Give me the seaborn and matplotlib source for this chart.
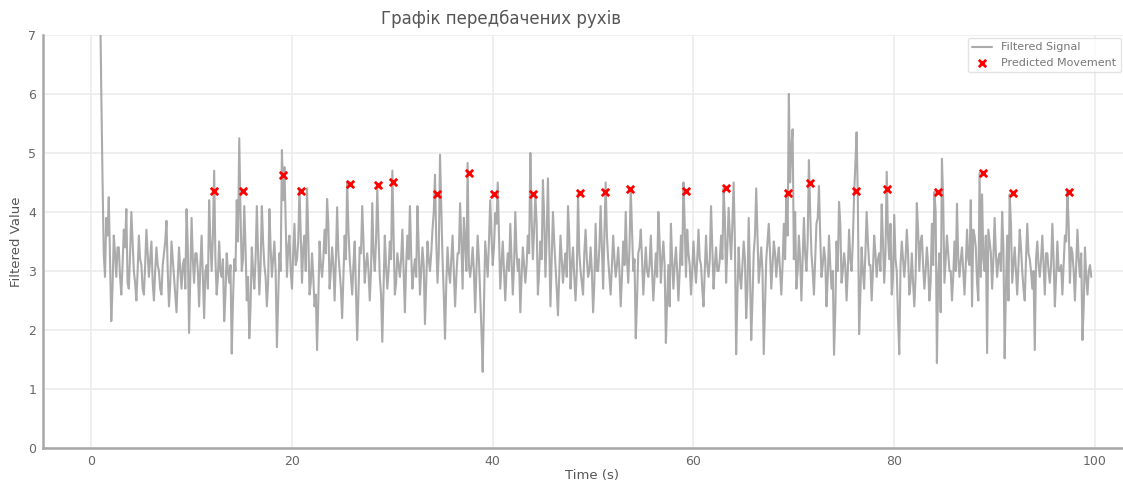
import numpy as np
import pandas as pd
import matplotlib
matplotlib.use("Agg")
import matplotlib.pyplot as plt
import seaborn as sns

# Filtered signal: main samples every 0.25 s starting at t = 0.75 s
signal_start = 0.75
signal_step = 0.25
signal_values = [
    9.5, 6.1, 3.3, 3.9,   4.25, 2.15, 3.6, 2.9,   3.4, 2.6, 3.7, 4.05,  2.7, 4.0, 3.0, 2.5,   3.6, 3.1, 2.6, 3.7,
    2.9, 3.5, 2.5, 3.4,   3.0, 2.6, 3.3, 3.85,  2.4, 3.5, 2.9, 2.3,   3.4, 2.7, 3.2, 4.05,  1.95, 3.9, 2.8, 3.3,
    2.4, 3.6, 2.2, 3.1,   4.2, 3.0, 4.7, 2.6,   3.5, 2.9, 2.15, 3.3,  2.8, 1.6, 3.2, 4.2,   5.25, 3.0, 4.1, 2.5,
    1.86, 3.4, 2.7, 4.1,  2.6, 4.1, 3.1, 2.4,   4.05, 2.9, 3.5, 1.71, 3.3, 5.05, 4.76, 2.9, 3.6, 2.7, 3.8, 3.2,
    4.4, 2.8, 3.6, 4.4,   2.6, 3.3, 2.4, 1.66,  3.5, 2.9, 3.7, 4.22,  2.7, 3.4, 2.5, 4.08,  3.0, 2.2, 3.6, 4.5,
    3.2, 2.6, 3.5, 1.83,  3.4, 4.1, 2.8, 3.3,   2.5, 4.15, 3.0, 4.4,  2.9, 1.8, 3.6, 2.7,   3.5, 4.7, 2.6, 3.3,
    2.9, 3.7, 2.3, 3.6,   4.1, 2.7, 3.2, 4.1,   2.6, 3.4, 2.1, 3.5,   3.0, 3.7, 4.63, 2.8,  4.97, 3.2, 1.85, 3.4,
    2.8, 3.6, 2.4, 3.3,   4.15, 2.7, 3.5, 4.83, 2.9, 3.4, 2.3, 3.6,   2.6, 1.29, 3.5, 2.9,  4.2, 3.1, 3.98, 4.5,
    2.7, 3.5, 2.5, 3.3,   3.8, 2.6, 4.0, 3.0,   2.3, 3.4, 2.8, 3.6,   5.0, 3.2, 4.3, 2.6,   3.5, 4.54, 2.9, 4.57,
    2.4, 4.0, 3.1, 2.25,  3.6, 2.8, 3.3, 4.1,   2.7, 3.4, 2.5, 4.3,   3.0, 2.6, 3.7, 2.9,   3.4, 2.3, 3.8, 3.0,
    4.1, 2.7, 4.5, 3.2,   2.6, 3.6, 2.9, 3.4,   2.4, 3.5, 4.0, 2.8,   4.4, 3.0, 1.86, 3.3,  3.7, 2.6, 3.4, 2.9,
    3.6, 2.5, 3.3, 4.0,   2.8, 3.5, 1.78, 3.1,  3.8, 2.7, 3.4, 2.5,   3.6, 4.5, 2.9, 3.3,   2.6, 3.5, 2.8, 3.7,
    3.1, 2.4, 3.6, 2.9,   4.1, 2.7, 3.4, 3.0,   3.6, 4.4, 2.8, 4.07,  3.2, 4.5, 1.59, 3.4,  2.7, 3.5, 2.2, 3.9,
    1.83, 3.3, 4.4, 2.8,  3.4, 1.59, 3.2, 3.8,  2.7, 3.5, 2.9, 3.4,   2.6, 3.8, 4.3, 6.0,   5.08, 3.2, 2.7, 3.6,
    2.5, 3.9, 3.0, 4.88,  3.3, 2.6, 3.8, 4.44,  2.9, 3.4, 2.4, 3.6,   2.7, 1.58, 3.5, 4.17, 2.8, 3.3, 2.5, 3.7,
    3.0, 4.3, 5.35, 1.93, 3.4, 2.7, 4.0, 3.1,   2.5, 3.6, 2.9, 3.3,   4.13, 2.8, 4.68, 3.2, 2.6, 3.95, 3.0, 1.59,
    3.5, 2.9, 3.7, 2.6,   3.3, 2.4, 4.15, 3.0,  3.6, 2.7, 3.4, 2.5,   3.8, 4.34, 1.44, 3.3, 4.9, 2.8, 3.6, 3.0,
    2.5, 3.5, 4.14, 2.9,  3.4, 2.6, 3.7, 3.1,   2.4, 3.6, 2.8, 4.66,  4.3, 3.0, 1.61, 3.5,  2.7, 3.9, 2.9, 3.3,
    4.0, 1.52, 3.6, 4.3,  2.8, 3.4, 2.6, 3.7,   3.0, 2.5, 3.8, 3.2,   2.7, 1.66, 3.5, 2.9,  3.6, 2.6, 3.3, 2.8,
    3.8, 2.4, 3.5, 3.0,   2.6, 3.6, 4.34, 2.8,  3.3, 2.5, 3.7, 2.9,   1.83, 3.4, 2.6, 3.1,
]

# In-between samples (t = 0.875 s, 1.125 s, ...)
signal_values_mid = [
    7.8, 4.6, 2.9, 3.6, 3.2, 2.7, 3.3, 3.4, 2.9, 3.1, 3.4, 2.8, 3.3, 3.5, 2.8, 3.0, 3.2, 2.7, 3.1, 3.3,
    3.2, 2.8, 3.0, 3.1, 2.7, 3.1, 3.5, 3.0, 2.8, 3.2, 2.6, 2.9, 3.0, 3.1, 2.7, 3.4, 2.9, 3.2, 3.3, 3.0,
    3.1, 2.9, 3.0, 2.7, 3.5, 3.6, 3.2, 2.9, 3.0, 3.2, 2.6, 3.0, 3.1, 2.5, 3.0, 3.5, 4.0, 3.2, 3.4, 2.9,
    2.4, 3.0, 3.2, 3.3, 3.1, 3.5, 2.9, 2.8, 3.4, 3.2, 3.0, 2.5, 3.0, 4.2, 3.8, 3.4, 3.0, 3.3, 3.1, 3.5,
    3.6, 3.4, 3.0, 3.6, 2.8, 2.9, 2.6, 2.5, 3.1, 3.2, 3.3, 3.8, 3.0, 3.1, 3.2, 3.3, 2.7, 2.9, 3.2, 3.7,
    2.9, 3.1, 2.7, 2.6, 3.3, 3.5, 3.1, 3.0, 3.0, 3.3, 3.5, 3.6, 2.6, 2.7, 3.1, 3.0, 3.2, 3.6, 2.8, 3.1,
    3.2, 3.0, 3.1, 3.2, 3.3, 3.0, 2.9, 3.4, 3.0, 3.1, 2.8, 3.2, 3.3, 4.0, 3.5, 3.3, 4.1, 2.6, 2.8, 3.0,
    3.2, 3.0, 2.9, 3.3, 3.5, 3.9, 3.0, 3.1, 3.1, 3.0, 3.0, 3.2, 2.0, 2.4, 3.2, 3.5, 3.6, 3.4, 3.8, 3.6,
    3.1, 3.0, 3.0, 3.0, 3.2, 3.1, 3.3, 3.2, 2.9, 3.1, 3.1, 3.3, 3.9, 3.7, 3.8, 3.0, 3.2, 3.9, 3.6, 3.5,
    3.2, 3.5, 2.7, 2.9, 3.2, 3.1, 2.9, 3.6, 3.1, 2.9, 3.0, 3.3, 2.8, 3.3, 3.2, 3.0, 3.0, 2.8, 3.0, 3.4,
    3.4, 3.6, 3.6, 2.9, 3.1, 3.2, 3.1, 3.0, 2.9, 3.1, 3.2, 3.4, 3.7, 3.2, 2.5, 3.4, 3.2, 3.0, 3.0, 3.1,
    3.0, 2.9, 2.9, 3.5, 3.2, 3.1, 2.5, 2.4, 3.2, 3.1, 3.0, 3.0, 3.1, 3.8, 3.7, 3.1, 3.0, 3.1, 3.2, 3.2,
    2.7, 3.0, 3.1, 3.2, 3.4, 3.1, 3.0, 3.2, 3.2, 3.9, 3.4, 3.6, 3.8, 3.5, 2.6, 2.9, 3.1, 3.2, 2.7, 3.0,
    2.5, 3.6, 3.6, 3.1, 3.0, 2.4, 3.5, 3.3, 3.1, 3.3, 3.2, 3.0, 3.1, 3.2, 3.6, 4.5, 5.4, 4.0, 3.0, 3.2,
    3.2, 3.3, 3.5, 4.0, 3.0, 3.2, 3.9, 3.6, 3.1, 3.2, 2.9, 3.1, 3.0, 2.3, 3.0, 3.8, 3.0, 3.1, 3.0, 3.2,
    3.5, 4.8, 4.2, 2.6, 3.0, 3.3, 3.5, 3.1, 3.0, 3.3, 3.2, 3.0, 3.5, 3.3, 3.6, 3.8, 2.9, 3.2, 2.2, 3.1,
    3.2, 3.2, 3.3, 2.8, 2.8, 2.9, 3.7, 3.5, 3.1, 3.0, 3.1, 2.8, 3.1, 4.0, 2.9, 2.3, 4.2, 3.2, 3.3, 3.0,
    2.9, 3.0, 3.2, 3.2, 3.0, 3.1, 3.2, 4.2, 3.7, 3.4, 2.5, 2.9, 3.2, 3.6, 3.7, 3.3, 3.2, 3.3, 3.2, 3.0,
    3.4, 2.7, 2.5, 3.8, 3.1, 3.0, 3.1, 3.4, 2.7, 3.2, 3.3, 3.0, 3.0, 3.2, 3.1, 3.2, 3.1, 3.3, 3.0, 3.1,
    3.2, 2.9, 3.0, 3.1, 3.1, 3.5, 3.8, 3.4, 3.0, 3.1, 3.2, 3.3, 2.4, 2.9, 3.0, 2.9,
]

# Predicted movements
movement_times = [12.2, 15.1, 19.1, 20.9, 25.8, 28.6, 30.1, 34.4, 37.6, 40.1, 44.0, 48.7,
                  51.2, 53.7, 59.3, 63.2, 69.4, 71.6, 76.2, 79.3, 84.4, 88.8, 91.8, 97.4]
movement_values = [4.35, 4.35, 4.62, 4.35, 4.47, 4.46, 4.51, 4.31, 4.66, 4.31, 4.31, 4.32,
                    4.34, 4.39, 4.36, 4.41, 4.32, 4.49, 4.36, 4.39, 4.34, 4.66, 4.32, 4.34]

x_ticks = [0, 20, 40, 60, 80, 100]
y_ticks = [0, 1, 2, 3, 4, 5, 6, 7]

# Interleave main and in-between samples
n = min(len(signal_values), len(signal_values_mid))
vals = np.empty(2 * n)
vals[0::2] = signal_values[:n]
vals[1::2] = signal_values_mid[:n]
times = signal_start + (signal_step / 2) * np.arange(2 * n)
sig_df = pd.DataFrame({"t": times, "v": vals})
mov_df = pd.DataFrame({"t": movement_times, "v": movement_values})

sns.set_theme(style="whitegrid")
plt.rcParams["font.family"] = ["DejaVu Sans"]

fig = plt.figure(figsize=(11.23, 4.82), dpi=100)
ax = fig.add_axes([0.0383, 0.0705, 0.977, 0.857])

sns.lineplot(data=sig_df, x="t", y="v", ax=ax, color="#9c9c9c", linewidth=1.5,
             alpha=0.85, label="Filtered Signal", estimator=None, sort=False)
sns.scatterplot(data=mov_df, x="t", y="v", ax=ax, color="red", marker="x", s=28,
                linewidth=2, label="Predicted Movement", zorder=5)

ax.set_xlim(-4.8, 104.5)
ax.set_ylim(0, 7)
ax.set_xticks(x_ticks)
ax.set_yticks(y_ticks)
ax.grid(True, color="#ececec", linewidth=1.2)
for side in ["top", "right"]:
    ax.spines[side].set_visible(False)
for side in ["left", "bottom"]:
    ax.spines[side].set_color("#a8a8a8")
    ax.spines[side].set_linewidth(1.8)
ax.tick_params(axis="both", labelsize=9, colors="#666666", length=3, pad=2)

ax.set_title("Графік передбачених рухів", fontsize=12, color="#555555", x=0.4175, pad=8)
ax.set_xlabel("Time (s)", fontsize=9.5, color="#555555", labelpad=1)
ax.set_ylabel("Filtered Value", fontsize=9.5, color="#555555", labelpad=4)

leg = ax.legend(loc="upper left", bbox_to_anchor=(968 / 1123, 1 - 38 / 482),
                bbox_transform=fig.transFigure, fontsize=8, frameon=True,
                borderaxespad=0.0, handlelength=1.8)
leg.get_frame().set_edgecolor("#dddddd")
for t in leg.get_texts():
    t.set_color("#777777")

fig.savefig("out.png", dpi=100)
